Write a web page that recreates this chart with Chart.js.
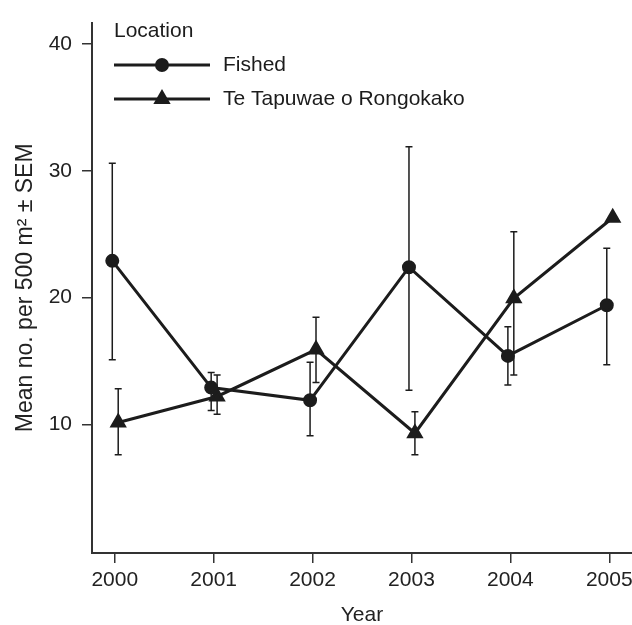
<!DOCTYPE html>
<html lang="en">
<head>
    <meta charset="UTF-8">
    <title>Mean no. per 500 m² ± SEM</title>
    <script src="https://cdn.jsdelivr.net/npm/chart.js"></script>
    <style>
        body {
            margin: 0;
            background: #fff;
        }
    </style>
</head>
<body>
    <canvas id="chart" width="632" height="625"></canvas>

    <script>
        // data
        const years = [2000, 2001, 2002, 2003, 2004, 2005];
        const yTicks = [10, 20, 30, 40];

        const fishedMean = [22.9, 12.9, 11.9, 22.4, 15.4, 19.4];
        const fishedLow = [15.1, 11.1, 9.1, 12.7, 13.1, 14.7];
        const fishedHigh = [30.6, 14.1, 14.9, 31.9, 17.7, 23.9];

        const reserveMean = [10.15, 12.2, 15.9, 9.3, 19.95, 26.3];
        const reserveLow = [7.6, 10.8, 13.3, 7.6, 13.9, null];
        const reserveHigh = [12.8, 13.9, 18.45, 11.0, 25.2, null];

        const ink = '#1c1c1c';
        const fontFamily = '"Liberation Sans", Arial, sans-serif';

        function points(mean, shift) {
            return years.map((yr, i) => ({ x: yr + shift, y: mean[i] }));
        }

        // vertical SEM bars, drawn under the markers
        const errorBars = {
            id: 'errorBars',
            beforeDatasetsDraw(chart) {
                const ctx = chart.ctx;
                const yScale = chart.scales.y;
                ctx.save();
                ctx.strokeStyle = ink;
                ctx.lineWidth = 1.5;
                chart.data.datasets.forEach((ds, i) => {
                    const meta = chart.getDatasetMeta(i);
                    meta.data.forEach((pt, j) => {
                        if (ds.errLow[j] == null) return;
                        const x = pt.x;
                        const y1 = yScale.getPixelForValue(ds.errLow[j]);
                        const y2 = yScale.getPixelForValue(ds.errHigh[j]);
                        ctx.beginPath();
                        ctx.moveTo(x, y1);
                        ctx.lineTo(x, y2);
                        ctx.moveTo(x - 3.5, y1);
                        ctx.lineTo(x + 3.5, y1);
                        ctx.moveTo(x - 3.5, y2);
                        ctx.lineTo(x + 3.5, y2);
                        ctx.stroke();
                    });
                });
                ctx.restore();
            }
        };

        // legend with line + marker sample
        const lineLegend = {
            id: 'lineLegend',
            afterDraw(chart) {
                const ctx = chart.ctx;
                ctx.save();
                ctx.fillStyle = ink;
                ctx.textBaseline = 'middle';
                ctx.textAlign = 'left';
                ctx.font = '21px ' + fontFamily;
                ctx.fillText('Location', 114, 31);
                chart.data.datasets.forEach((ds, i) => {
                    const y = 65 + i * 34;
                    ctx.strokeStyle = ink;
                    ctx.lineWidth = 3;
                    ctx.beginPath();
                    ctx.moveTo(114, y);
                    ctx.lineTo(210, y);
                    ctx.stroke();
                    Chart.helpers.drawPoint(ctx, {
                        pointStyle: ds.pointStyle,
                        radius: ds.pointRadius,
                        borderWidth: 1
                    }, 162, y);
                    ctx.fill();
                    ctx.fillText(ds.label, 223, y);
                });
                ctx.restore();
            }
        };

        new Chart(document.getElementById('chart'), {
            type: 'line',
            data: {
                datasets: [{
                    label: 'Fished',
                    data: points(fishedMean, -0.025),
                    errLow: fishedLow,
                    errHigh: fishedHigh,
                    borderColor: ink,
                    backgroundColor: ink,
                    borderWidth: 3,
                    pointStyle: 'circle',
                    pointRadius: 5.5,
                    pointBackgroundColor: ink,
                    pointBorderColor: ink
                }, {
                    label: 'Te Tapuwae o Rongokako',
                    data: points(reserveMean, 0.035),
                    errLow: reserveLow,
                    errHigh: reserveHigh,
                    borderColor: ink,
                    backgroundColor: ink,
                    borderWidth: 3,
                    pointStyle: 'triangle',
                    pointRadius: 7,
                    pointBackgroundColor: ink,
                    pointBorderColor: ink
                }]
            },
            options: {
                responsive: false,
                animation: false,
                layout: { autoPadding: false, padding: { top: 12, right: 0, left: 0, bottom: 0 } },
                plugins: {
                    legend: { display: false },
                    tooltip: { enabled: false }
                },
                scales: {
                    x: {
                        type: 'linear',
                        min: 1999.77,
                        max: 2005.23,
                        afterBuildTicks: s => { s.ticks = years.map(v => ({ value: v })); },
                        afterFit: s => {
                            s.height = 72;
                            s.paddingLeft = 0;
                            s.paddingRight = 0;
                        },
                        grid: { drawOnChartArea: false, tickLength: 10, color: '#333', lineWidth: 1.5 },
                        border: { color: '#333', width: 2 },
                        ticks: {
                            color: '#222',
                            padding: 5,
                            font: { family: fontFamily, size: 21 },
                            callback: v => String(v)
                        },
                        title: {
                            display: true,
                            text: 'Year',
                            color: '#222',
                            padding: { top: 0, bottom: -3 },
                            font: { family: fontFamily, size: 21 }
                        }
                    },
                    y: {
                        min: -0.15,
                        max: 41.7,
                        afterBuildTicks: s => { s.ticks = yTicks.map(v => ({ value: v })); },
                        afterFit: s => { s.width = 92; },
                        grid: { drawOnChartArea: false, tickLength: 10, color: '#333', lineWidth: 1.5 },
                        border: { color: '#333', width: 2 },
                        ticks: {
                            color: '#222',
                            padding: 10,
                            font: { family: fontFamily, size: 21 }
                        },
                        title: {
                            display: true,
                            text: 'Mean no. per 500 m² ± SEM',
                            color: '#222',
                            padding: { top: 12, bottom: 0 },
                            font: { family: fontFamily, size: 23 }
                        }
                    }
                }
            },
            plugins: [errorBars, lineLegend]
        });
    </script>
</body>
</html>
